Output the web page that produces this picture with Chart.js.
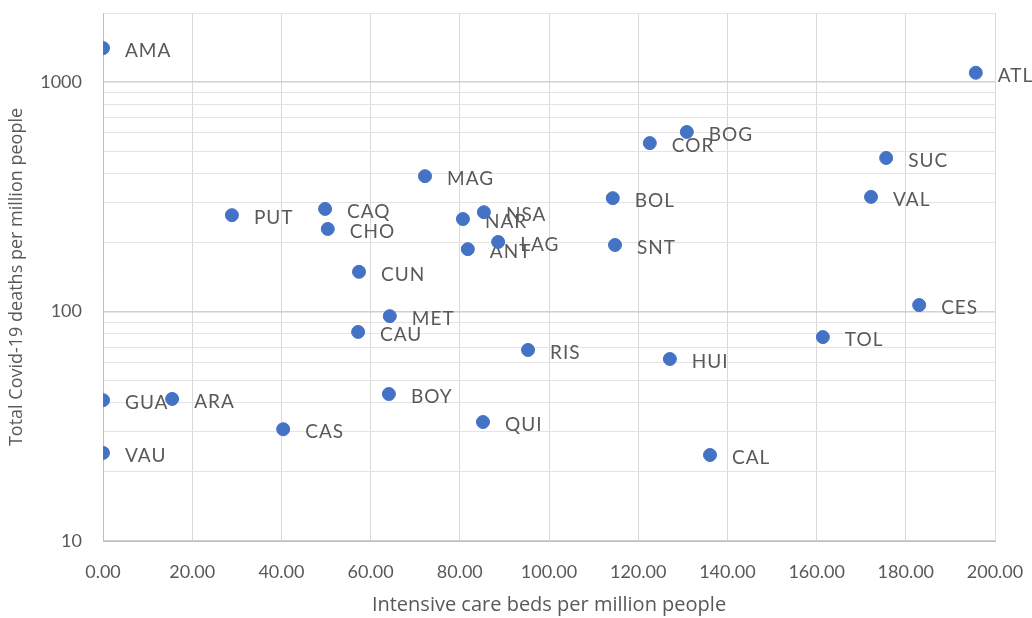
<!DOCTYPE html>
<html>
<head>
<meta charset="utf-8">
<script src="https://cdn.jsdelivr.net/npm/chart.js@4"></script>
<style>
  html, body { margin: 0; padding: 0; background: #fff; }
  #wrap { width: 1032px; height: 618px; }
</style>
</head>
<body>
<div id="wrap"><canvas id="scatter-chartcanvas"></canvas></div>
<script>
// department codes
var names = ["AMA", "ATL", "BOG", "COR", "BOL", "SUC", "VAL", "MAG", "PUT", "CAQ",
             "CHO", "CUN", "MET", "CAU", "NAR", "NSA", "ANT", "LAG", "SNT", "RIS",
             "BOY", "QUI", "CAS", "CES", "TOL", "HUI", "CAL", "GUA", "ARA", "VAU"];
// ICU beds per million people
var icuBeds = [0, 195.7, 130.9, 122.6, 114.3, 175.6, 172.2, 72.2, 28.9, 49.8,
               50.4, 57.4, 64.3, 57.2, 80.7, 85.4, 81.8, 88.6, 114.8, 95.3,
               64.1, 85.2, 40.4, 183.0, 161.4, 127.1, 136.1, 0, 15.5, 0];
// Covid-19 deaths per million people
var deaths = [1406, 1098, 606, 542, 312, 467, 316, 389, 263, 280,
              229, 149, 95.5, 81.5, 253, 271, 187, 201, 195, 68,
              43.7, 33.0, 30.7, 106.7, 77.4, 62.1, 23.7, 41.1, 41.6, 24.2];

var yGridValues = [10, 20, 30, 40, 50, 60, 70, 80, 90,
                   100, 200, 300, 400, 500, 600, 700, 800, 900,
                   1000, 2000];
var yLabelValues = [10, 100, 1000];

var points = [];
for (var i = 0; i < names.length; i++) {
    points.push({ x: icuBeds[i], y: deaths[i] });
}

var textColor = "#595959";
var fontFamily = "Lato, 'Open Sans', sans-serif";
var titleFamily = "'Open Sans', Lato, sans-serif";

// draw the code next to each point, under the dots like Excel does
var pointLabels = {
    id: "pointLabels",
    beforeDatasetsDraw: function(chart) {
        var ctx = chart.ctx;
        var meta = chart.getDatasetMeta(0);
        ctx.save();
        ctx.font = "19px " + fontFamily;
        ctx.letterSpacing = "1px";
        ctx.fillStyle = textColor;
        ctx.textAlign = "left";
        ctx.textBaseline = "middle";
        meta.data.forEach(function(el, idx) {
            ctx.fillText(names[idx], el.x + 22, el.y + 3);
        });
        ctx.restore();
    }
};

var ctx = document.getElementById("scatter-chartcanvas");

var chart = new Chart(ctx, {
    type: "scatter",
    data: {
        datasets: [{
            label: "Departments",
            data: points,
            backgroundColor: "#4472C4",
            borderColor: "#4472C4",
            pointRadius: 6.5,
            pointHoverRadius: 6.5
        }]
    },
    options: {
        responsive: true,
        maintainAspectRatio: false,
        animation: false,
        layout: { padding: { top: 13, right: 37, left: 0, bottom: 0 } },
        plugins: {
            legend: { display: false },
            tooltip: { enabled: false }
        },
        scales: {
            x: {
                type: "linear",
                min: 0,
                max: 200,
                afterFit: function(scale) {
                    scale.height = 77;
                    scale.paddingLeft = 0;
                    scale.paddingRight = 0;
                },
                ticks: {
                    stepSize: 20,
                    padding: 20,
                    color: textColor,
                    font: { family: fontFamily, size: 18 },
                    maxRotation: 0,
                    callback: function(v) { return v.toFixed(2); }
                },
                grid: { color: "#d9d9d9", drawTicks: false },
                border: { color: "#bfbfbf" },
                title: {
                    display: true,
                    text: "Intensive care beds per million people",
                    color: textColor,
                    font: { family: titleFamily, size: 20 },
                    padding: { top: 4, bottom: 1 }
                }
            },
            y: {
                type: "logarithmic",
                min: 10,
                max: 2000,
                afterFit: function(scale) {
                    scale.width = 103;
                    scale.paddingTop = 0;
                    scale.paddingBottom = 0;
                },
                afterBuildTicks: function(scale) {
                    scale.ticks = yGridValues.map(function(v) {
                        return { value: v, major: yLabelValues.indexOf(v) >= 0 };
                    });
                },
                ticks: {
                    autoSkip: false,
                    padding: 21,
                    color: textColor,
                    font: { family: fontFamily, size: 18 },
                    callback: function(v) {
                        return yLabelValues.indexOf(v) >= 0 ? String(v) : "";
                    }
                },
                grid: {
                    drawTicks: false,
                    color: function(c) {
                        return c.tick && yLabelValues.indexOf(c.tick.value) >= 0 ? "#d0d0d0" : "#e4e4e4";
                    },
                    lineWidth: function(c) {
                        return c.tick && yLabelValues.indexOf(c.tick.value) >= 0 ? 1.6 : 1;
                    }
                },
                border: { color: "#bfbfbf" },
                title: {
                    display: true,
                    text: "Total Covid-19 deaths per million people",
                    color: textColor,
                    font: { family: titleFamily, size: 18 },
                    padding: { top: 6, bottom: 0 }
                }
            }
        }
    },
    plugins: [pointLabels]
});
</script>
</body>
</html>
